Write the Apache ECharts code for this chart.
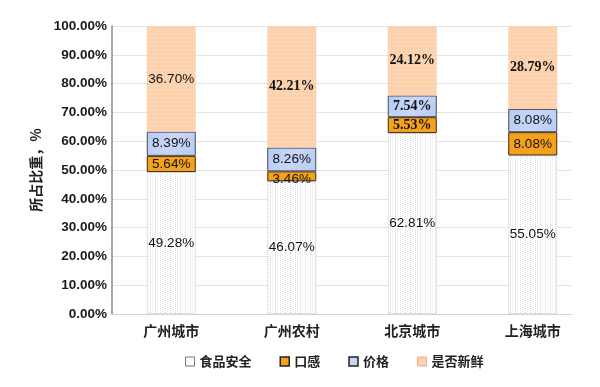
<!DOCTYPE html>
<html><head><meta charset="utf-8">
<script src="https://cdn.jsdelivr.net/npm/echarts@6/dist/echarts.min.js"></script>
<style>html,body{margin:0;padding:0;background:#fff}#c{width:600px;height:387px}</style>
</head><body><div id="c"></div>
<script>
var categories = ['广州城市', '广州农村', '北京城市', '上海城市'];
var seriesNames = ['食品安全', '口感', '价格', '是否新鲜'];
var foodSafety = [49.28, 46.07, 62.81, 55.05];
var taste = [5.64, 3.46, 5.53, 8.08];
var price = [8.39, 8.26, 7.54, 8.08];
var freshness = [36.70, 42.21, 24.12, 28.79];
var yTicks = [0, 10, 20, 30, 40, 50, 60, 70, 80, 90, 100];
var yAxisName = '所占比重，%';

// label font styles (S = sans, R = serif) per series
var labelFontStyle = [['S','S','S','S'], ['S','S','R','S'], ['S','S','R','S'], ['S','R','R','R']];

function makePattern(w, h, base, draw) {
  var c = document.createElement('canvas');
  c.width = w; c.height = h;
  var g = c.getContext('2d');
  g.fillStyle = base; g.fillRect(0, 0, w, h);
  draw(g);
  return c;
}
var dotPat = makePattern(5, 2, '#ffffff', function (g) {
  g.fillStyle = '#d3d7de'; g.fillRect(0, 0, 1, 1);
  g.fillStyle = '#e8eaee'; g.fillRect(2, 1, 1, 1);
});
var peachPat = makePattern(4, 4, '#fdd7b6', function (g) {
  g.fillStyle = '#f9caa3';
  g.fillRect(0, 0, 1, 1); g.fillRect(1, 1, 1, 1); g.fillRect(2, 2, 1, 1); g.fillRect(3, 3, 1, 1);
  g.fillRect(3, 0, 1, 1); g.fillRect(0, 3, 1, 1);
});

var styles = [
  { color: { image: dotPat, repeat: 'repeat' }, borderColor: '#c0c4cc', borderWidth: 1, borderType: 'dotted' },
  { color: '#f6a11c', borderColor: '#3a2a12', borderWidth: 1 },
  { color: { type: 'linear', x: 0, y: 0, x2: 1, y2: 1, colorStops: [{ offset: 0, color: '#b4ccf4' }, { offset: 0.5, color: '#c9d6fa' }, { offset: 1, color: '#b6cdf2' }] }, borderColor: '#4a4a55', borderWidth: 1 },
  { color: { image: peachPat, repeat: 'repeat' }, borderColor: '#fcd0ac', borderWidth: 0 }
];
var legendIcons = [
  { color: '#ffffff', borderColor: '#777', borderWidth: 1 },
  { color: '#f6a11c', borderColor: '#222', borderWidth: 1.5 },
  { color: '#c4d6f6', borderColor: '#222', borderWidth: 1.5 },
  { color: '#fbd0b0', borderColor: '#e8b090', borderWidth: 1 }
];
var allData = [foodSafety, taste, price, freshness];

var series = seriesNames.map(function (name, si) {
  return {
    name: name, type: 'bar', stack: 'total', xAxisIndex: 1, yAxisIndex: 1,
    barWidth: 49, itemStyle: styles[si],
    data: allData[si].map(function (v, ci) {
      var serif = labelFontStyle[si][ci] === 'R';
      var lab = {
        fontFamily: serif ? '"Liberation Serif", serif' : '"Liberation Sans", Arial, sans-serif',
        fontWeight: serif ? 'bold' : 'normal',
        fontSize: serif ? 14 : 13.5
      };
      if (si === 1 && ci === 1) { lab.offset = [0, 3]; }
      return { value: v, label: lab };
    }),
    label: {
      show: true, position: 'inside', color: '#111',
      formatter: function (p) { return p.value.toFixed(2) + '%'; }
    },
    emphasis: { disabled: true }
  };
});
series.push({ type: 'bar', xAxisIndex: 0, yAxisIndex: 0, data: [], silent: true });

var chart = echarts.init(document.getElementById('c'), null, { renderer: 'canvas' });
chart.setOption({
  animation: false,
  backgroundColor: '#ffffff',
  grid: [
    { left: 112, right: 28, top: 26, bottom: 73 },
    { left: 111, right: 7, top: 26, bottom: 73 }
  ],
  legend: {
    left: 180, top: 350, itemWidth: 9, itemHeight: 9, itemGap: 28,
    textStyle: { fontFamily: '"Noto Sans CJK SC", sans-serif', fontWeight: 'bold', fontSize: 13, color: '#222' },
    data: seriesNames.map(function (n, i) { return { name: n, icon: 'rect', itemStyle: legendIcons[i] }; })
  },
  xAxis: [
    { type: 'category', gridIndex: 0, data: categories, axisLabel: { show: false }, axisTick: { show: false },
      axisLine: { lineStyle: { color: '#d4d4d4', width: 1 } } },
    { type: 'category', gridIndex: 1, data: categories, axisTick: { show: false }, axisLine: { show: false },
      axisLabel: { margin: 10, color: '#222', fontSize: 14, fontWeight: 'bold', fontFamily: '"Noto Sans CJK SC", sans-serif' } }
  ],
  yAxis: [
    { type: 'value', gridIndex: 0, min: yTicks[0], max: yTicks[yTicks.length - 1], interval: yTicks[1] - yTicks[0],
      name: yAxisName, nameLocation: 'middle', nameGap: 64,
      nameTextStyle: { fontFamily: '"Noto Sans CJK SC", serif', fontWeight: 'bold', fontSize: 14, color: '#222' },
      axisLine: { show: true, lineStyle: { color: '#8a8a8a', width: 1.5 } },
      axisTick: { show: false },
      splitLine: { lineStyle: { color: '#e4e4e4', width: 1 } },
      axisLabel: { margin: 5, color: '#1a1a1a', fontSize: 13.5, fontWeight: 'bold', fontFamily: '"Liberation Sans", Arial, sans-serif',
        formatter: function (v) { return v.toFixed(2) + '%'; } } },
    { type: 'value', gridIndex: 1, min: 0, max: 100, interval: 10, show: false, splitLine: { show: false } }
  ],
  series: series
});
</script></body></html>
